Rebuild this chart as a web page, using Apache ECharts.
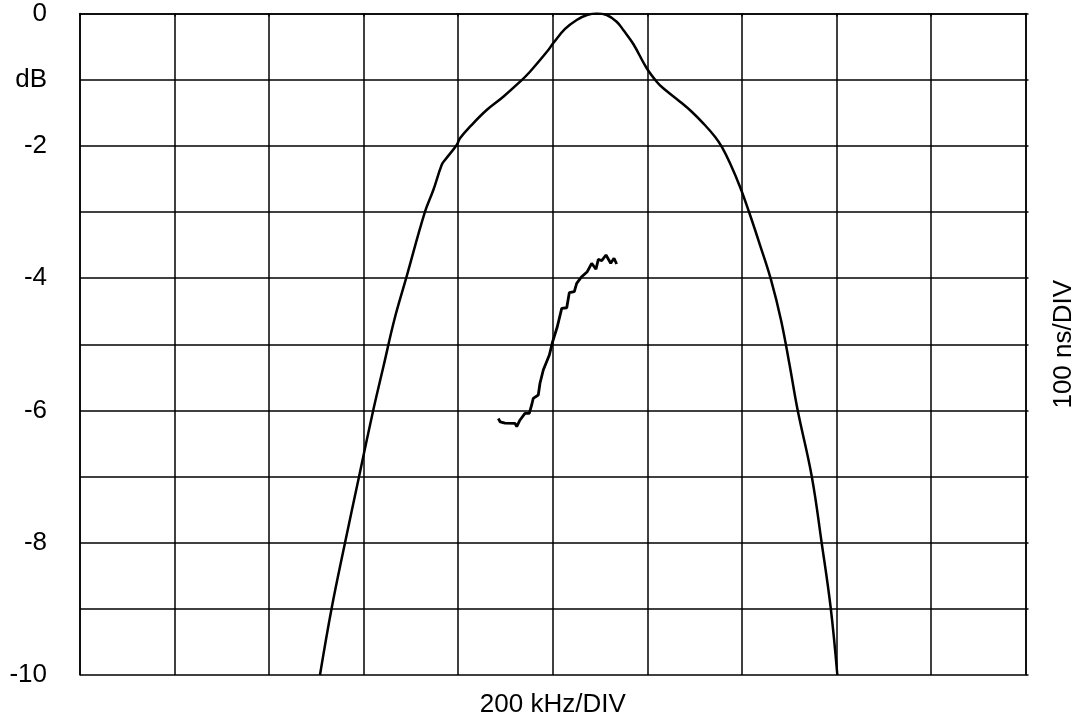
<!DOCTYPE html>
<html>
<head>
<meta charset="utf-8">
<script src="https://cdn.jsdelivr.net/npm/echarts@6/dist/echarts.min.js"></script>
<style>html,body{margin:0;padding:0;background:#fff}#c{width:1078px;height:719px}</style>
</head>
<body>
<div id="c"></div>
<script>
// Main frequency response curve (x in divisions, y in dB)
var mainX = [2.538,2.662,2.803,2.951,3.102,3.213,3.324,3.448,3.649,3.737,3.825,3.860,3.984,4.019,4.125,4.301,4.477,4.654,4.759,4.953,5.006,5.130,5.253,5.362,5.465,5.571,5.676,5.746,5.852,5.994,6.099,6.169,6.346,6.470,6.592,6.716,6.787,6.875,6.980,7.076,7.192,7.305,7.414,7.505,7.590,7.740,7.844,7.940,8.010];
var mainY = [-10.0,-8.987,-8.000,-7.002,-5.994,-5.314,-4.633,-4.009,-2.996,-2.668,-2.290,-2.215,-1.988,-1.887,-1.711,-1.459,-1.258,-1.031,-0.880,-0.552,-0.446,-0.234,-0.098,-0.023,0,-0.023,-0.124,-0.249,-0.461,-0.828,-1.031,-1.131,-1.333,-1.485,-1.660,-1.862,-2.014,-2.265,-2.618,-3.001,-3.500,-4.009,-4.633,-5.314,-5.994,-7.002,-8.000,-8.987,-10.0];
// Group delay trace (x in divisions, y in divisions on same grid)
var delayX = [4.424,4.445,4.495,4.601,4.619,4.654,4.706,4.752,4.777,4.794,4.847,4.865,4.900,4.964,4.999,5.048,5.095,5.148,5.175,5.228,5.253,5.306,5.365,5.412,5.457,5.482,5.518,5.563,5.613,5.648,5.676];
var delayY = [-6.122,-6.175,-6.191,-6.195,-6.246,-6.145,-6.044,-6.044,-5.918,-5.817,-5.767,-5.590,-5.389,-5.163,-4.961,-4.735,-4.457,-4.448,-4.221,-4.206,-4.079,-3.979,-3.903,-3.776,-3.867,-3.716,-3.737,-3.651,-3.776,-3.701,-3.787];
var yTickLabels = {"0":"0","-1":"dB","-2":"-2","-4":"-4","-6":"-6","-8":"-8","-10":"-10"};
var xAxisName = "200 kHz/DIV";
var rightAxisName = "100 ns/DIV";

function pairs(xs, ys){ return xs.map(function(x,i){ return [x, ys[i]]; }); }

var font = "Liberation Sans, Arial, sans-serif";
var chart = echarts.init(document.getElementById('c'));
chart.setOption({
  animation:false,
  backgroundColor:'#fff',
  grid:{left:80, right:52.5, top:13.5, bottom:44, containLabel:false, outerBoundsMode:'none'},
  xAxis:{
    type:'value', min:0, max:10, interval:1,
    name:xAxisName, nameLocation:'middle', nameGap:17,
    nameTextStyle:{fontFamily:font, fontSize:26, color:'#000'},
    axisLine:{show:true, lineStyle:{color:'#000', width:1.5}},
    axisTick:{show:true, length:3, lineStyle:{color:'#000', width:1.5}},
    axisLabel:{show:false},
    splitLine:{show:true, lineStyle:{color:'#000', width:1.5}}
  },
  yAxis:[{
    type:'value', min:-10, max:0, interval:1, position:'left',
    axisLine:{show:true, onZero:false, lineStyle:{color:'#000', width:1.5}},
    axisTick:{show:false},
    axisLabel:{show:true, margin:33, fontFamily:font, fontSize:26, color:'#000',
      formatter:function(v){ var k = String(Math.round(v)); return yTickLabels.hasOwnProperty(k) ? yTickLabels[k] : ''; }},
    splitLine:{show:true, lineStyle:{color:'#000', width:1.5}}
  },{
    type:'value', min:-10, max:0, interval:1, position:'right',
    name:rightAxisName, nameLocation:'middle', nameGap:25, nameRotate:90,
    nameTextStyle:{fontFamily:font, fontSize:26, color:'#000'},
    axisLine:{show:true, onZero:false, lineStyle:{color:'#000', width:1.5}},
    axisTick:{show:true, length:3, lineStyle:{color:'#000', width:1.5}},
    axisLabel:{show:false},
    splitLine:{show:false}
  }],
  series:[{
    type:'line', data:pairs(mainX, mainY), showSymbol:false, symbol:'none',
    smooth:0.4, lineStyle:{color:'#000', width:2.5}, z:5
  },{
    type:'line', data:pairs(delayX, delayY), showSymbol:false, symbol:'none',
    lineStyle:{color:'#000', width:2.8}, z:5
  }]
});
</script>
</body>
</html>
